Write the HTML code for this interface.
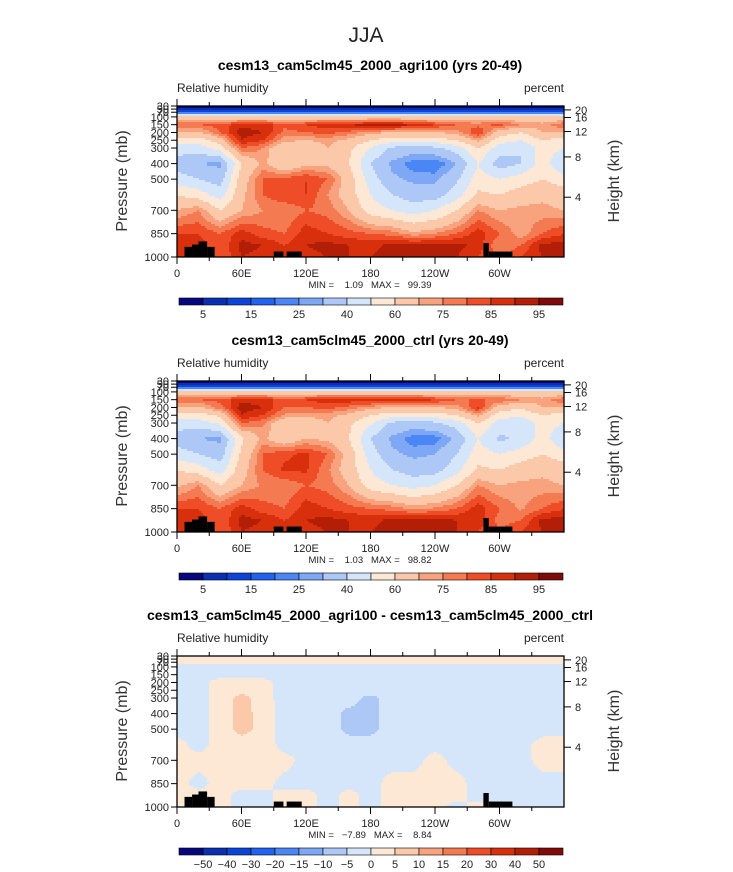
<!DOCTYPE html>
<html><head><meta charset="utf-8"><style>
body{margin:0;background:#fff;}
svg{display:block;font-family:"Liberation Sans",sans-serif;}
.pre{white-space:pre;}
</style></head><body>
<svg id="fig" width="733" height="872" xmlns="http://www.w3.org/2000/svg">
<text x="366" y="42" text-anchor="middle" font-size="21" fill="#222">JJA</text>
</svg>
<script>
// ---- data ----
const lons = [0,20,40,60,80,100,120,140,160,180,200,220,240,260,280,300,320,340,360];
const pres = [30,70,100,150,200,250,300,400,500,600,700,850,925,1000];
const rhAgri = [
[3,3,3,3,3,3,3,3,3,3,3,3,3,3,3,3,3,3,3],
[15,15,15,15,15,15,15,15,15,15,15,15,15,15,15,15,15,15,15],
[62,62,62,62,62,62,62,62,62,62,62,62,62,62,62,62,62,62,62],
[80,80,82,88,88,82,85,88,90,92,93,90,85,80,78,82,75,72,80],
[70,68,80,93,90,78,80,82,78,72,70,68,70,72,85,65,60,70,70],
[55,55,65,90,85,72,70,72,68,60,55,55,55,60,72,55,50,60,55],
[45,45,55,80,75,60,62,70,62,50,38,35,38,45,60,45,40,55,50],
[35,30,28,60,72,60,68,68,60,40,28,22,20,30,50,35,40,55,40],
[45,40,35,65,80,82,85,80,65,45,32,28,28,38,55,50,55,60,55],
[60,55,45,68,80,85,85,75,65,50,40,35,35,45,62,60,65,68,65],
[70,75,60,70,75,75,80,78,70,55,50,45,50,60,75,70,72,72,70],
[85,85,80,88,82,80,88,85,82,80,78,72,75,80,88,80,72,80,85],
[90,88,80,92,90,85,90,92,90,88,92,92,92,92,88,75,80,92,92],
[88,85,80,90,88,85,88,90,90,90,92,92,92,90,85,80,85,90,90]];
const rhCtrl = [
[3,3,3,3,3,3,3,3,3,3,3,3,3,3,3,3,3,3,3],
[15,15,15,15,15,15,15,15,15,15,15,15,15,15,15,15,15,15,15],
[62,62,62,62,62,62,62,62,62,62,62,62,62,62,62,62,62,62,62],
[80,80,82,88,88,82,85,88,88,90,90,88,85,80,80,80,75,72,80],
[70,68,78,93,90,80,80,82,78,72,70,68,70,72,86,65,62,70,70],
[55,55,62,90,85,74,72,72,68,60,55,55,55,60,72,55,52,60,55],
[45,45,52,80,76,62,64,70,62,52,38,35,38,45,60,45,42,55,50],
[35,30,28,58,72,62,70,68,60,40,28,22,22,32,50,38,42,55,40],
[45,40,35,62,80,84,86,80,66,45,32,28,30,40,55,50,55,60,55],
[60,55,45,66,80,86,86,76,65,50,40,35,36,46,62,60,65,68,65],
[68,75,60,70,76,76,80,78,70,55,50,46,50,60,75,70,72,72,70],
[85,85,80,88,82,80,88,85,82,80,78,74,76,80,88,80,74,80,85],
[90,88,80,92,90,85,90,92,90,88,92,92,92,90,88,78,80,92,92],
[88,85,80,90,88,85,88,90,90,90,92,92,92,90,85,80,85,90,90]];
const rhDiff = [
[2,2,2,2,2,2,2,2,2,2,2,2,2,2,2,2,2,2,2],
[2,2,2,2,2,2,2,2,2,2,2,2,2,2,2,2,2,2,2],
[-2,-2,-2,-2,-2,-2,-2,-2,-2,-2,-2,-2,-2,-2,-2,-2,-2,-2,-2],
[-2,-2,-2,-2,-2,-2,-2,-2,-2,-2,-2,-2,-2,-2,-2,-2,-2,-2,-2],
[-2,-2,2,2,2,-2,-2,-2,-2,-2,-2,-2,-2,-2,-2,-2,-2,-2,-2],
[-2,-2,2,3,2,-2,-2,-2,-2,-2,-2,-2,-2,-2,-2,-2,-2,-2,-2],
[-2,-2,2,7,2,-2,-2,-2,-2,-7,-2,-2,-2,-2,-2,-2,-2,-2,-2],
[-2,-2,2,7,3,-2,-2,-2,-7,-7,-2,-2,-2,-2,-2,-2,-2,-2,-2],
[-2,-2,2,7,3,-2,-2,-2,-7,-7,-2,-2,-2,-2,-2,-2,-2,-2,-2],
[2,-2,2,2,3,-2,-2,-2,-2,-2,-2,-2,-2,-2,-2,-2,-2,2,2],
[2,2,2,2,2,2,-2,-2,-2,-2,-2,-2,2,-2,-2,-2,-2,2,2],
[2,-2,2,2,2,-2,-2,-2,-2,-2,2,2,2,2,-2,-2,-2,-2,-2],
[2,2,2,-2,-2,2,2,-2,2,-2,2,2,2,2,-2,-2,-2,-2,-2],
[2,2,2,-2,-2,2,2,-2,2,-2,2,2,2,-2,2,-2,-2,-2,-2]];
const levelsRH = [5,10,15,20,25,30,40,50,60,70,75,80,85,90,95];
const labelsRH = ["5","15","25","40","60","75","85","95"];
const levelsDiff = [-50,-40,-30,-20,-15,-10,-5,0,5,10,15,20,30,40,50];
const labelsDiff = ["−50","−40","−30","−20","−15","−10","−5","0","5","10","15","20","30","40","50"];
const presTicks = [30,50,70,100,150,200,250,300,400,500,700,850,1000];
const presLabels = ["30","50","70","100","150","200","250","300","400","500","700","850","1000"];
const hTicks = [20,16,12,8,4];
const hPres = [55,104,194,357,616];
const lonTicks = [0,60,120,180,240,300];
const lonLabels = ["0","60E","120E","180","120W","60W"];
const topoLon = [[7,14],[14,20],[20,28],[28,35],[90,99],[102,116],[285,290],[290,312]];
const topoP = [935,920,900,935,965,965,910,965];
const colors = ["#06067f","#0a2fb0","#0b44d8","#2262f0","#4a86f5","#7ea8f6","#adc8f7","#d5e6fb","#fde8d6","#fbc8aa","#f8a37e","#f47a52","#ef4c28","#d8300c","#b31e06","#7f0b0b"];

const NS="http://www.w3.org/2000/svg";
const svg=document.getElementById('fig');
const X0=177, X1=564, PH=151;
function mk(tag,attrs,parent){const e=document.createElementNS(NS,tag);for(const k in attrs)e.setAttribute(k,attrs[k]);(parent||svg).appendChild(e);return e;}
function xOf(lon){return X0+lon/360*(X1-X0);}
function colorIdx(v,lv){let i=0;while(i<lv.length&&v>=lv[i])i++;return i;}
function interp(field,lon,p){
  lon=Math.max(0,Math.min(360,lon));
  let i=Math.min(Math.floor(lon/20),17);let fx=(lon-lons[i])/20;
  p=Math.max(30,Math.min(1000,p));
  let j=0;while(j<pres.length-2&&p>pres[j+1])j++;
  let fy=(p-pres[j])/(pres[j+1]-pres[j]);fy=Math.max(0,Math.min(1,fy));
  const a=field[j][i],b=field[j][i+1],c=field[j+1][i],d=field[j+1][i+1];
  return (a*(1-fx)+b*fx)*(1-fy)+(c*(1-fx)+d*fx)*fy;
}
function panel(top,title,field,lv,cbLabels,minmax,pi){
  const yOf=p=>top+PH-(1000-p)/970*PH;
  const g=mk('g',{});
  
  
  const t=mk('text',{x:370,y:top-36,'text-anchor':'middle','font-size':14,'font-weight':'bold',fill:'#000'},g);t.textContent=title;
  
  const l=mk('text',{x:177,y:top-14,'font-size':12,fill:'#222'},g);l.textContent='Relative humidity';
  
  const u=mk('text',{x:564,y:top-14,'text-anchor':'end','font-size':12,fill:'#222'},g);u.textContent='percent';
  
  const cg=mk('g',{'shape-rendering':'crispEdges'},g);
  
  const s=2, bottom=top+PH;
  for(let x=X0;x<X1;x+=s){
    const lon=(x+s/2-X0)/(X1-X0)*360;
    let runStart=top,runC=-1;
    for(let y=top;y<bottom;y+=s){
      const p=1000-(bottom-(y+s/2))/PH*970;
      const c=colorIdx(interp(field,lon,p),lv);
      if(c!==runC){
        if(runC>=0){const r=mk('rect',{x:x,y:runStart,width:Math.min(s,X1-x),height:y-runStart,fill:colors[runC]},cg);
          }
        runStart=y;runC=c;
      }
    }
    const r=mk('rect',{x:x,y:runStart,width:Math.min(s,X1-x),height:bottom-runStart,fill:colors[runC]},cg);
    
  }
  topoLon.forEach((d,k)=>{const y=yOf(topoP[k]);const r=mk('rect',{x:xOf(d[0]),y:y,width:xOf(d[1])-xOf(d[0]),height:top+PH-y,fill:'#000'},g);
    });
  const fr=mk('rect',{x:X0,y:top,width:X1-X0,height:PH,fill:'none',stroke:'#000','stroke-width':1.3},g);
  
  for(let lon=0;lon<=330;lon+=30){const x=xOf(lon);const len=lon%60===0?7:4;
    mk('line',{x1:x,x2:x,y1:top,y2:top-len,stroke:'#000'},g);mk('line',{x1:x,x2:x,y1:top+PH,y2:top+PH+len,stroke:'#000'},g);}
  lonTicks.forEach((lon,k)=>{const tt=mk('text',{x:xOf(lon),y:top+PH+20,'text-anchor':'middle','font-size':11,fill:'#222'},g);tt.textContent=lonLabels[k];
    });
  presTicks.forEach((p,k)=>{const y=yOf(p);mk('line',{x1:X0,x2:X0-6,y1:y,y2:y,stroke:'#000'},g);
    const tt=mk('text',{x:X0-8,y:y+4,'text-anchor':'end','font-size':11,fill:'#222'},g);tt.textContent=presLabels[k];
    });
  hTicks.forEach((h,k)=>{const y=yOf(hPres[k]);mk('line',{x1:X1,x2:X1+7,y1:y,y2:y,stroke:'#000'},g);
    const tt=mk('text',{x:X1+11,y:y+4,'font-size':11,fill:'#222'},g);tt.textContent=h;
    });
  const yl=mk('text',{x:0,y:0,'text-anchor':'middle','font-size':16,fill:'#333',transform:`translate(127,${top+75}) rotate(-90)`},g);yl.textContent='Pressure (mb)';
  
  const hl=mk('text',{x:0,y:0,'text-anchor':'middle','font-size':16,fill:'#333',transform:`translate(619,${top+75}) rotate(-90)`},g);hl.textContent='Height (km)';
  
  const mm=mk('text',{x:370,y:top+PH+31,'text-anchor':'middle','font-size':9.5,fill:'#222','class':'pre'},g);mm.textContent=minmax;
  
  const cb=mk('g',{},g);
  const cx0=179,cx1=563,cw=(cx1-cx0)/16,cy=top+PH+41;
  colors.forEach((c,k)=>{const r=mk('rect',{x:cx0+k*cw,y:cy,width:cw,height:7,fill:c,stroke:'#000','stroke-width':0.6},cb);
    });
  const step=cbLabels.length===8?2:1;
  cbLabels.forEach((lab,k)=>{const tt=mk('text',{x:cx0+(k*step+1)*cw,y:cy+20,'text-anchor':'middle','font-size':11,fill:'#222'},cb);tt.textContent=lab;
    });
}
panel(106,'cesm13_cam5clm45_2000_agri100 (yrs 20-49)',rhAgri,levelsRH,labelsRH,'MIN =    1.09   MAX =   99.39',1);
panel(381,'cesm13_cam5clm45_2000_ctrl (yrs 20-49)',rhCtrl,levelsRH,labelsRH,'MIN =    1.03   MAX =   98.82',2);
panel(656,'cesm13_cam5clm45_2000_agri100 - cesm13_cam5clm45_2000_ctrl',rhDiff,levelsDiff,labelsDiff,'MIN =   −7.89   MAX =    8.84',3);
</script>
</body></html>
